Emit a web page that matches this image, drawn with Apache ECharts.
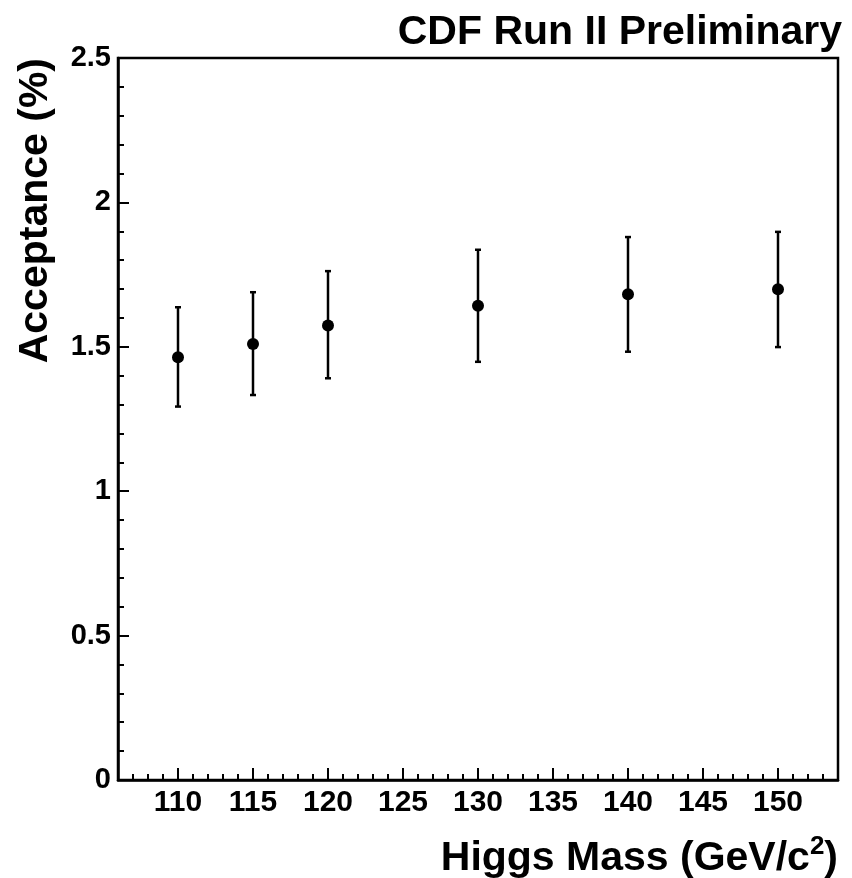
<!DOCTYPE html>
<html>
<head>
<meta charset="utf-8">
<script src="https://cdn.jsdelivr.net/npm/echarts@6/dist/echarts.min.js"></script>
<style>
html,body{margin:0;padding:0;background:#fff;}
#chart{width:852px;height:878px;}
</style>
</head>
<body>
<div id="chart"></div>
<script>
// Data
const massValues = [110, 115, 120, 130, 140, 150];
const acceptance = [1.464, 1.510, 1.574, 1.642, 1.682, 1.699];
const errLow = [1.293, 1.333, 1.391, 1.448, 1.483, 1.499];
const errHigh = [1.637, 1.689, 1.762, 1.836, 1.880, 1.898];
const xMajorTicks = [110, 115, 120, 125, 130, 135, 140, 145, 150];

const FONT = 'Liberation Sans, Arial, Helvetica, sans-serif';

const points = massValues.map((m, i) => [m, acceptance[i]]);
const bars = massValues.map((m, i) => [m, errLow[i], errHigh[i]]);

const chart = echarts.init(document.getElementById('chart'), null, {renderer: 'canvas'});
chart.setOption({
  backgroundColor: '#ffffff',
  animation: false,
  title: {
    text: 'CDF Run II Preliminary',
    right: 5,
    top: 7,
    textStyle: {fontFamily: FONT, fontWeight: 'bold', fontSize: 41, color: '#000'}
  },
  grid: {
    left: 118, right: 14, top: 58, bottom: 98,
    show: true, borderColor: '#000', borderWidth: 2.5, backgroundColor: 'transparent'
  },
  xAxis: [{
    type: 'value', position: 'bottom', min: 106, max: 154,
    axisLine: {show: true, lineStyle: {color: '#000', width: 2.5}},
    axisTick: {show: true, inside: true, length: 12, customValues: xMajorTicks, lineStyle: {color: '#000', width: 2}},
    axisLabel: {show: true, customValues: xMajorTicks, margin: 8, fontFamily: FONT, fontWeight: 'bold', fontSize: 30, color: '#000'},
    splitLine: {show: false}
  }, {
    type: 'value', position: 'bottom', min: 106, max: 154, interval: 1,
    axisLine: {show: false},
    axisTick: {show: true, inside: true, length: 6, lineStyle: {color: '#000', width: 2}},
    axisLabel: {show: false},
    splitLine: {show: false}
  }],
  yAxis: {
    type: 'value', min: 0, max: 2.5, interval: 0.5,
    axisLine: {show: true, lineStyle: {color: '#000', width: 2.5}},
    axisTick: {show: true, inside: true, length: 11, lineStyle: {color: '#000', width: 2}},
    minorTick: {show: true, splitNumber: 5, length: 6, lineStyle: {color: '#000', width: 2}},
    axisLabel: {margin: 7, fontFamily: FONT, fontWeight: 'bold', fontSize: 29, color: '#000'},
    splitLine: {show: false},
    minorSplitLine: {show: false}
  },
  graphic: [{
    type: 'text',
    x: 36, y: 58,
    rotation: Math.PI / 2,
    style: {
      text: 'Acceptance (%)',
      fontFamily: FONT, fontWeight: 'bold', fontSize: 41, fill: '#000',
      align: 'right', verticalAlign: 'middle'
    }
  }, {
    type: 'text',
    x: 838, y: 859,
    style: {
      text: 'Higgs Mass (GeV/c{sup|2})',
      fontFamily: FONT, fontWeight: 'bold', fontSize: 41, fill: '#000',
      align: 'right', verticalAlign: 'middle',
      rich: {
        sup: {fontFamily: FONT, fontWeight: 'bold', fontSize: 26, fill: '#000', verticalAlign: 'bottom', padding: [0, 0, 24, 0]}
      }
    }
  }],
  series: [{
    type: 'custom',
    xAxisIndex: 0,
    data: bars,
    renderItem: function (params, api) {
      const x = api.value(0);
      const lo = api.coord([x, api.value(1)]);
      const hi = api.coord([x, api.value(2)]);
      const cap = 3;
      const st = {stroke: '#000', lineWidth: 2.5};
      return {
        type: 'group',
        children: [
          {type: 'line', shape: {x1: lo[0], y1: lo[1], x2: hi[0], y2: hi[1]}, style: st},
          {type: 'line', shape: {x1: lo[0] - cap, y1: lo[1], x2: lo[0] + cap, y2: lo[1]}, style: st},
          {type: 'line', shape: {x1: hi[0] - cap, y1: hi[1], x2: hi[0] + cap, y2: hi[1]}, style: st}
        ]
      };
    },
    z: 2
  }, {
    type: 'scatter',
    xAxisIndex: 0,
    data: points,
    symbol: 'circle',
    symbolSize: 12,
    itemStyle: {color: '#000', opacity: 1},
    z: 3
  }]
});
</script>
</body>
</html>
